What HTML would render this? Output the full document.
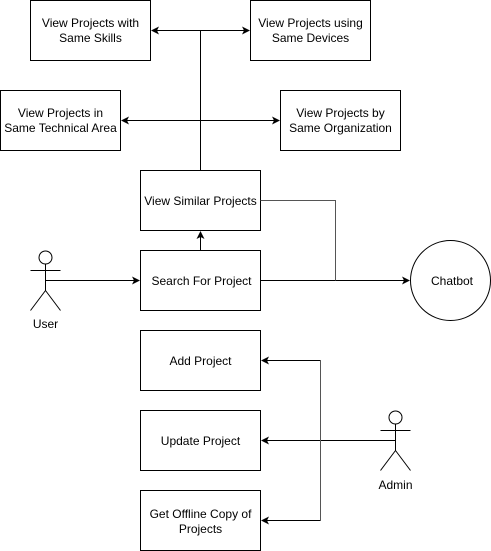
<!DOCTYPE html>
<html><head><style>body{margin:0;background:#fff}svg{display:block}text{font-family:"Liberation Sans",Arial,sans-serif;font-size:12px;fill:#000}</style></head><body>
<svg width="491" height="551" viewBox="0 0 491 551">
<defs><marker id="a" markerWidth="8" markerHeight="8" refX="7" refY="4" orient="auto" markerUnits="userSpaceOnUse"><path d="M0,0 L8,4 L0,8 L2,4 Z" fill="#000"/></marker></defs>
<g fill="#fff" stroke="#000" stroke-width="1">
<rect x="30.5" y="0.5" width="120" height="60"/>
<rect x="250.5" y="0.5" width="120" height="60"/>
<rect x="0.5" y="90.5" width="120" height="60"/>
<rect x="280.5" y="90.5" width="120" height="60"/>
<rect x="140.5" y="170.5" width="120" height="60"/>
<rect x="140.5" y="250.5" width="120" height="60"/>
<rect x="140.5" y="330.5" width="120" height="60"/>
<rect x="140.5" y="410.5" width="120" height="60"/>
<rect x="140.5" y="490.5" width="120" height="60"/>
<circle cx="450.5" cy="280.5" r="40"/>
<circle cx="45.5" cy="257.5" r="6.5"/>
<circle cx="395.5" cy="417.5" r="6.5"/>
</g>
<g fill="none" stroke="#000" stroke-width="1">
<path d="M30.5,270.5H60.5M45.5,264V290.5M45.5,290.5L30.5,310.5M45.5,290.5L60.5,310.5"/>
<path d="M380.5,430.5H410.5M395.5,424V450.5M395.5,450.5L380.5,470.5M395.5,450.5L410.5,470.5"/>
<path d="M200.5,170V30.5"/>
<path d="M200.5,30.5H152" marker-end="url(#a)"/><path d="M200.5,30.5H249" marker-end="url(#a)"/>
<path d="M200.5,120.5H122" marker-end="url(#a)"/><path d="M200.5,120.5H279" marker-end="url(#a)"/>
<path d="M200.5,250V232" marker-end="url(#a)"/>
<path d="M45.5,280.5H139" marker-end="url(#a)"/>
<path d="M260.5,280.5H409" marker-end="url(#a)"/>
<path d="M260.5,200.5H335.5V280.5" stroke="#555"/>
<path d="M395.5,440.5H262" marker-end="url(#a)"/>
<path d="M320.5,360.5V520.5" stroke="#555"/>
<path d="M320.5,360.5H262" marker-end="url(#a)"/>
<path d="M320.5,520.5H262" marker-end="url(#a)"/>
</g>
<g text-anchor="middle">
<text x="90.5" y="27">View Projects with</text><text x="90.5" y="42">Same Skills</text>
<text x="310.5" y="27">View Projects using</text><text x="310.5" y="42">Same Devices</text>
<text x="60.5" y="117">View Projects in</text><text x="60.5" y="132">Same Technical Area</text>
<text x="340.5" y="117">View Projects by</text><text x="340.5" y="132">Same Organization</text>
<text x="200.5" y="205">View Similar Projects</text>
<text x="201.5" y="285">Search For Project</text>
<text x="200.5" y="365">Add Project</text>
<text x="200.5" y="445">Update Project</text>
<text x="200.5" y="518">Get Offline Copy of</text><text x="200.5" y="533">Projects</text>
<text x="452" y="285">Chatbot</text>
<text x="45.5" y="328">User</text>
<text x="395.5" y="489">Admin</text>
</g>
</svg>
</body></html>
